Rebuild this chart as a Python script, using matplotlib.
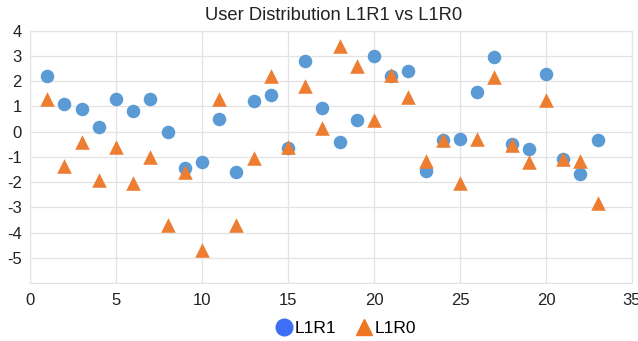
import matplotlib
matplotlib.use("Agg")
import matplotlib.pyplot as plt
from matplotlib.lines import Line2D

plt.rcParams['font.family'] = ['Liberation Sans', 'DejaVu Sans']

title = "User Distribution L1R1 vs L1R0"
x = list(range(1, 34))
l1r1 = [2.2, 1.1, 0.9, 0.2, 1.3, 0.8, 1.3, 0.0, -1.45, -1.2, 0.5, -1.6, 1.2, 1.45,
        -0.65, 2.8, 0.95, -0.4, 0.45, 3.0, 2.2, 2.4, -1.55, -0.35, -0.3, 1.55, 2.95,
        -0.5, -0.7, 2.3, -1.1, -1.7, -0.35]
l1r0 = [1.3, -1.35, -0.4, -1.9, -0.6, -2.05, -1.0, -3.7, -1.6, -4.7, 1.3, -3.7, -1.05,
        2.2, -0.6, 1.8, 0.15, 3.4, 2.6, 0.45, 2.25, 1.35, -1.15, -0.35, -2.05, -0.3,
        2.15, -0.55, -1.2, 1.25, -1.1, -1.15, -2.85]
xticks = [0, 5, 10, 15, 20, 25, 30, 35]
xticklabels = ["0", "5", "10", "15", "20", "25", "20", "35"]
yticks = [4, 3, 2, 1, 0, -1, -2, -3, -4, -5]

fig = plt.figure(figsize=(6.38, 3.41), dpi=100)
ax = fig.add_axes([30/638, 1-283/341, (632-30)/638, (283-30.6)/341])

ax.scatter(x, l1r1, s=95, marker='o', color='#5B9BD5', zorder=3, linewidths=0)
ax.scatter(x, l1r0, s=110, marker='^', color='#ED7D31', zorder=3, linewidths=0)

ax.set_xlim(0, 35)
ax.set_ylim(-6, 4)
ax.set_xticks(xticks)
ax.set_xticklabels(xticklabels)
ax.set_yticks(list(range(-6, 5)))
ax.set_yticklabels([str(v) if v in yticks else "" for v in range(-6, 5)])
ax.grid(True, color='#e3e3e3', linewidth=0.9)
ax.set_axisbelow(True)
for s in ax.spines.values():
    s.set_color('#e3e3e3')
ax.tick_params(length=0, labelsize=12, colors='#222222')
ax.tick_params(axis='x', pad=7)
ax.tick_params(axis='y', pad=6)

fig.text(334/638, 1-16/341, title, ha='center', va='center', fontsize=13.2, color='#222222')

handles = [Line2D([], [], marker='o', color='#3D6EF5', linestyle='', markersize=12),
           Line2D([], [], marker='^', color='#EE7722', linestyle='', markersize=12)]
fig.legend(handles, ["L1R1", "L1R0"], loc='center', bbox_to_anchor=(345/638, 1-328/341),
           ncol=2, frameon=False, fontsize=12.5, handletextpad=0.0, columnspacing=1.0,
           handlelength=1.2)

fig.savefig("out.png", dpi=100, facecolor='white')
